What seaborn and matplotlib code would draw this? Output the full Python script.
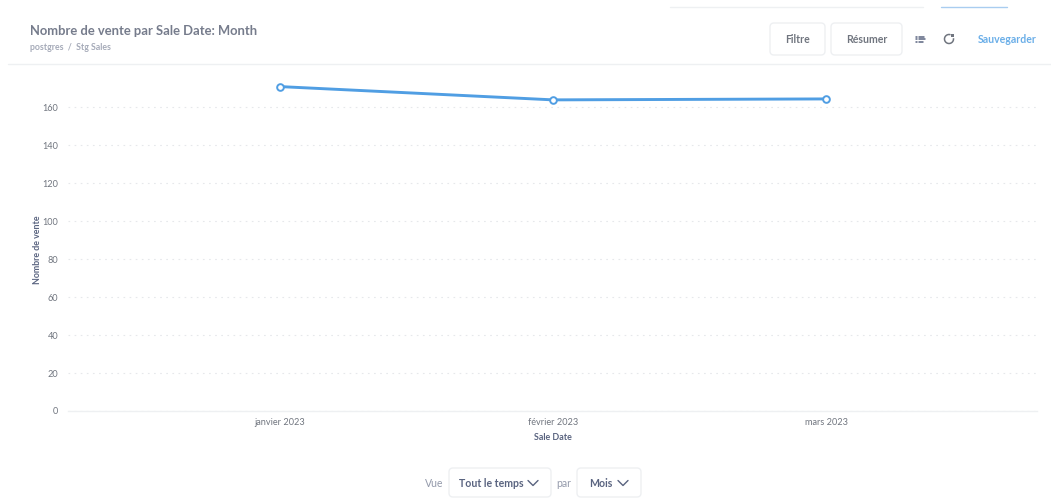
import matplotlib
matplotlib.use("Agg")
import matplotlib.pyplot as plt
from matplotlib.lines import Line2D
from matplotlib.patches import Arc, FancyBboxPatch, Rectangle
import pandas as pd
import seaborn as sns

months = ["janvier 2023", "février 2023", "mars 2023"]
ventes = [171, 164, 164.5]
y_ticks = [0, 20, 40, 60, 80, 100, 120, 140, 160]

W, H = 1051, 504
BLUE = "#509ee3"
DARK = "#5a6480"
MID = "#70757f"
LIGHT = "#949aab"
BORDER = "#eef0f2"

sns.set_theme(style="white")
plt.rcParams["font.family"] = ["Lato", "Open Sans", "DejaVu Sans"]


def fx(px):
    return px / W


def fy(py):
    return 1 - py / H


def label(fig, px, py, s, size=7, color=DARK, weight="bold", ha="center"):
    fig.text(fx(px), fy(py), s, fontsize=size, color=color, fontweight=weight,
             ha=ha, va="center")


def hline(fig, x0, x1, py, color=BORDER, lw=1.0):
    fig.add_artist(Line2D([fx(x0), fx(x1)], [fy(py), fy(py)], color=color, lw=lw))


def button(fig, x0, y0, x1, y1):
    # rounded box drawn in pixels so the corners stay round
    fig.add_artist(FancyBboxPatch((x0, H - y1), x1 - x0, y1 - y0,
                                  boxstyle="round,pad=0,rounding_size=4",
                                  transform=None, fc="white", ec=BORDER, lw=1.0))


def chevron(fig, cx, cy):
    fig.add_artist(Line2D([fx(cx - 5), fx(cx), fx(cx + 5)],
                          [fy(cy - 2.5), fy(cy + 2.5), fy(cy - 2.5)],
                          color=DARK, lw=1.0))


def main():
    df = pd.DataFrame({"month": months, "ventes": ventes})

    fig = plt.figure(figsize=(W / 100, H / 100), dpi=100, facecolor="white")
    ax = fig.add_axes([fx(68), fy(411), fx(1037 - 68), (411 - 68) / H])

    sns.lineplot(data=df, x="month", y="ventes", ax=ax, color=BLUE, lw=2.1,
                 marker="o", markersize=4.8, markerfacecolor="white",
                 markeredgecolor=BLUE, markeredgewidth=1.4, errorbar=None)

    ax.set_xlim(-0.777, 2.773)
    ax.set_ylim(0, 180.8)
    ax.set_yticks(y_ticks)
    ax.yaxis.grid(True, color="#e6e8eb", lw=0.8, ls=(0, (1.5, 4)))
    ax.set_axisbelow(True)
    for side in ["top", "right", "left"]:
        ax.spines[side].set_visible(False)
    ax.spines["bottom"].set_color(BORDER)
    ax.spines["bottom"].set_linewidth(1.0)
    ax.tick_params(axis="both", length=0, labelsize=6.6, labelcolor=MID)
    ax.tick_params(axis="x", pad=4.8)
    ax.tick_params(axis="y", pad=7)
    ax.set_xlabel("")
    ax.set_ylabel("")
    label(fig, 37, 250, "Nombre de vente", size=6.4)
    fig.texts[-1].set_rotation(90)
    label(fig, 553, 437, "Sale Date", size=6.4)

    # header
    hline(fig, 670, 923, 7)
    hline(fig, 941, 1007, 7, color="#a9cdf0")
    hline(fig, 8, 1051, 64)
    label(fig, 30, 31, "Nombre de vente par Sale Date: Month", size=9.4, color="#767c8c", ha="left")
    label(fig, 30, 47, "postgres  /  Stg Sales", size=6.3, color="#a6abb9", ha="left")

    button(fig, 770, 23, 825, 55)
    button(fig, 831, 23, 902, 55)
    label(fig, 797.5, 39.5, "Filtre", size=7.6, color=MID)
    label(fig, 866.5, 39.5, "Résumer", size=7.6, color=MID)
    label(fig, 1007, 39.5, "Sauvegarder", size=7.6, color="#6aaee8")

    # summarize icon
    for py, x0, x1 in [(36.5, 919, 924), (39, 919, 925), (41.5, 919, 923)]:
        hline(fig, x0, x1, py, color=DARK, lw=1.1)
    for py in [36.5, 39, 41.5]:
        hline(fig, 915.5, 917, py, color=DARK, lw=1.1)
    # refresh icon
    fig.add_artist(Arc((949, H - 39), 9, 9, theta1=70, theta2=370, transform=None,
                       color=MID, lw=1.1))
    fig.add_artist(Rectangle((950.5, H - 36.5), 3, 3, transform=None, fc=MID, ec="none"))

    # bottom controls
    button(fig, 449, 468, 551, 497)
    button(fig, 577, 468, 641, 497)
    label(fig, 434, 483.5, "Vue", size=7.6, color=LIGHT, weight="normal")
    label(fig, 563.5, 483.5, "par", size=7.6, color=LIGHT, weight="normal")
    label(fig, 491, 483.5, "Tout le temps", size=7.6)
    label(fig, 600.5, 483.5, "Mois", size=7.6)
    chevron(fig, 533, 483)
    chevron(fig, 623, 483)

    fig.savefig("out.png", dpi=100, facecolor="white")


if __name__ == "__main__":
    main()
